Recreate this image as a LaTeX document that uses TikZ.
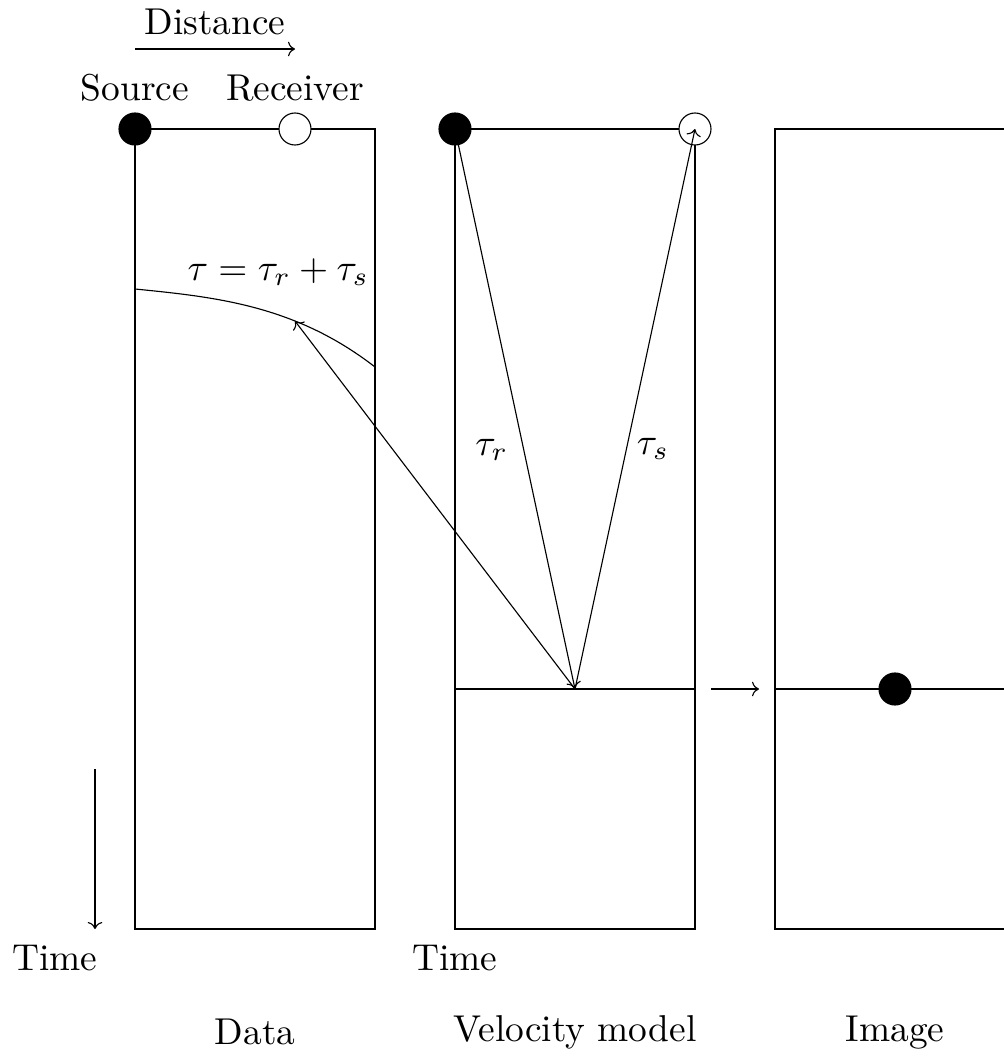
\documentclass[tikz,border=0pt]{standalone}
\usetikzlibrary{arrows.meta}
\begin{document}
\begin{tikzpicture}[
  txt/.style={scale=1.33},
  dot/.style={circle,draw,fill=black,minimum size=0.4cm,inner sep=0pt},
  odot/.style={circle,draw,fill=white,minimum size=0.4cm,inner sep=0pt},
  ray/.style={->}
]
\clip (-1.6875,-11.6) rectangle (10.8625,1.6125);
% boxes
\draw (0,0) rectangle (3,-10);
\draw (4,0) rectangle (7,-10);
\draw (8,0) rectangle (11,-10);
% reflector lines
\draw (4,-7) -- (7,-7);
\draw (8,-7) -- (11,-7);
% data curve
\draw[domain=0:3,samples=60,smooth] plot (\x,{-2-0.1*\x-0.025*\x*\x*\x});
\coordinate (cpt) at (2,-2.4);
\coordinate (refl) at (5.5,-7);
% circles
\node[dot] (src) at (0,0) {};
\node[odot] (rec) at (2,0) {};
\node[dot] (src2) at (4,0) {};
\node[odot] (rec2) at (7,0) {};
\node[dot] (img) at (9.5,-7) {};
% rays
\draw[ray] (src2.center) -- (refl);
\draw[ray] (refl) -- (rec2.center);
\draw[ray] (refl) -- (cpt);
% labels
\node[txt] (tr) at (4.46,-4.01) {$\tau_r$};
\node[txt] (ts) at (6.475,-4.0) {$\tau_s$};
\node[txt] (tau) at (1.79,-1.79) {$\tau=\tau_r+\tau_s$};
\node[txt] (srcl) at (0,0.51) {Source};
\node[txt] (recl) at (2,0.51) {Receiver};
% distance arrow
\coordinate (d0) at (0,1.0);
\coordinate (d1) at (2,1.0);
\draw[->] (d0) -- (d1);
\node[txt] (dist) at (1,1.34) {Distance};
% time arrow
\coordinate (t0) at (-0.5,-8);
\coordinate (t1) at (-0.5,-10);
\draw[->] (t0) -- (t1);
\node[txt] (time1) at (-1,-10.36) {Time};
\node[txt] (time2) at (4,-10.36) {Time};
% mapping arrow
\coordinate (m0) at (7.2,-7);
\coordinate (m1) at (7.8,-7);
\draw[->] (m0) -- (m1);
% captions
\node[txt] (data) at (1.5,-11.29) {Data};
\node[txt] (vel) at (5.5,-11.29) {Velocity model};
\node[txt] (image) at (9.5,-11.29) {Image};
\end{tikzpicture}
\end{document}
